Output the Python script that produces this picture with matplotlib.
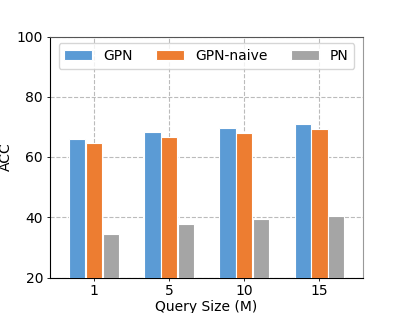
import matplotlib
matplotlib.use('Agg')
import matplotlib.pyplot as plt
import numpy as np

QUERY_SIZES = ['1', '5', '10', '15']
GPN = [66.0, 68.3, 69.7, 70.8]
GPN_NAIVE = [64.7, 66.8, 68.1, 69.3]
PN = [34.6, 37.7, 39.3, 40.5]

COLORS = ['#5b9bd5', '#ed7d31', '#a5a5a5']

fig = plt.figure(figsize=(4.03, 3.13), dpi=100)
ax = fig.add_axes([50 / 403, 35.5 / 313, 313 / 403, 241 / 313])

x = np.arange(len(QUERY_SIZES))
width = 0.215
offset = 0.225
for i, (vals, name) in enumerate([(GPN, 'GPN'), (GPN_NAIVE, 'GPN-naive'), (PN, 'PN')]):
    ax.bar(x + (i - 1) * offset, vals, width, color=COLORS[i], label=name,
           edgecolor='white', linewidth=0.8, zorder=3)

ax.set_xlim(-0.59, 3.58)
ax.set_ylim(20, 100)
ax.set_yticks([20, 40, 60, 80, 100])
ax.set_xticks(x)
ax.set_xticklabels(QUERY_SIZES)
ax.tick_params(labelsize=10, pad=3, length=2, width=0.6)
ax.set_xlabel('Query Size (M)', fontsize=10, labelpad=1)
ax.set_ylabel('ACC', fontsize=10, labelpad=3)
ax.grid(True, linestyle='--', color='#bbbbbb', linewidth=0.8, zorder=0)
ax.spines['right'].set_color('#999999')
ax.spines['top'].set_color('#555555')

ax.legend(loc='upper center', ncol=3, fontsize=10, handlelength=2.0,
          columnspacing=1.7, borderaxespad=0.5, bbox_to_anchor=(0.5, 1.0))

fig.savefig('out.png', dpi=100)
